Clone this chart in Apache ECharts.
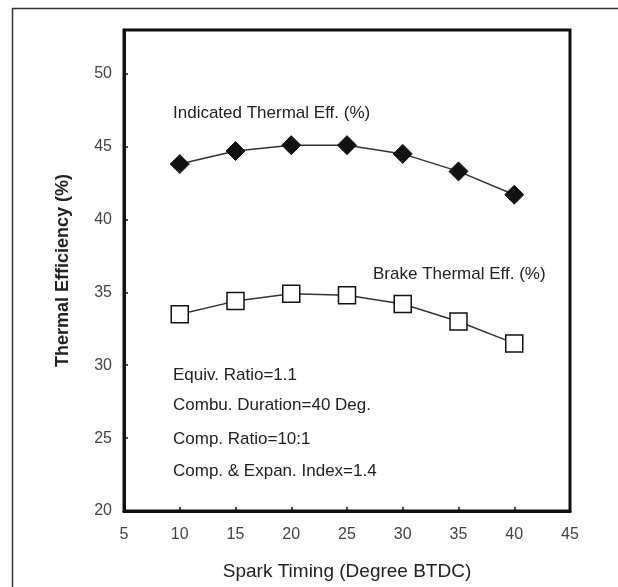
<!DOCTYPE html>
<html>
<head>
<meta charset="utf-8">
<script src="https://cdn.jsdelivr.net/npm/echarts@6/dist/echarts.min.js"></script>
<style>
html,body{margin:0;padding:0;background:#fff;}
#chart{width:618px;height:587px;}
</style>
</head>
<body>
<div id="chart"></div>
<script>
var sparkTiming = [10, 15, 20, 25, 30, 35, 40];
var indicatedEff = [43.8, 44.7, 45.1, 45.1, 44.5, 43.3, 41.7];
var brakeEff = [33.5, 34.4, 34.9, 34.8, 34.2, 33.0, 31.5];
var notes = ['Equiv. Ratio=1.1', 'Combu. Duration=40 Deg.', 'Comp. Ratio=10:1', 'Comp. & Expan. Index=1.4'];
var xName = 'Spark Timing (Degree BTDC)';
var yName = 'Thermal Efficiency (%)';
var indicatedLabel = 'Indicated Thermal Eff. (%)';
var brakeLabel = 'Brake Thermal Eff. (%)';

function pairs(xs, ys) { return xs.map(function (x, i) { return [x, ys[i]]; }); }

var chart = echarts.init(document.getElementById('chart'), null, {renderer: 'canvas'});
var font = 'Liberation Sans, Arial, sans-serif';
var noteY = [377, 407, 441, 473];

var graphics = [
  {type: 'line', shape: {x1: 12.5, y1: 8, x2: 12.5, y2: 587}, style: {stroke: '#333', lineWidth: 1.5}},
  {type: 'line', shape: {x1: 12, y1: 8.5, x2: 618, y2: 8.5}, style: {stroke: '#333', lineWidth: 1.5}},
  {type: 'text', left: 173, top: 115 - 10, style: {text: indicatedLabel, font: '17px ' + font, fill: '#222'}},
  {type: 'text', left: 373, top: 276 - 10, style: {text: brakeLabel, font: '17px ' + font, fill: '#222'}}
];
notes.forEach(function (t, i) {
  graphics.push({type: 'text', left: 173, top: noteY[i] - 10, style: {text: t, font: '17px ' + font, fill: '#222'}});
});

chart.setOption({
  animation: false,
  backgroundColor: '#fff',
  grid: {left: 124, right: 48, top: 30, bottom: 76, show: true, borderColor: '#111', borderWidth: 3, backgroundColor: 'transparent'},
  xAxis: {
    type: 'value', min: 5, max: 45, interval: 5,
    name: xName, nameLocation: 'middle', nameGap: 51,
    nameTextStyle: {fontFamily: font, fontSize: 19, color: '#222'},
    axisLine: {show: true, lineStyle: {color: '#111', width: 3}},
    axisTick: {show: true, inside: true, length: 4, lineStyle: {color: '#111', width: 1.5}},
    axisLabel: {fontFamily: font, fontSize: 16, color: '#444', margin: 16},
    splitLine: {show: false}
  },
  yAxis: {
    type: 'value', min: 20, max: 53, interval: 5,
    name: yName, nameLocation: 'middle', nameGap: 52,
    nameTextStyle: {fontFamily: font, fontSize: 18, fontWeight: 'bold', color: '#222'},
    axisLine: {show: true, lineStyle: {color: '#111', width: 3}},
    axisTick: {show: true, inside: true, length: 4, lineStyle: {color: '#111', width: 1.5}},
    axisLabel: {fontFamily: font, fontSize: 16, color: '#444', margin: 12, showMaxLabel: false},
    splitLine: {show: false}
  },
  series: [
    {
      type: 'line', data: pairs(sparkTiming, indicatedEff),
      symbol: 'diamond', symbolSize: 19,
      itemStyle: {color: '#111', borderColor: '#111', borderWidth: 1},
      lineStyle: {color: '#333', width: 1.5}
    },
    {
      type: 'line', data: pairs(sparkTiming, brakeEff),
      symbol: 'rect', symbolSize: 17,
      itemStyle: {color: '#fff', borderColor: '#111', borderWidth: 1.5},
      lineStyle: {color: '#333', width: 1.5}
    }
  ],
  graphic: graphics
});
</script>
</body>
</html>
